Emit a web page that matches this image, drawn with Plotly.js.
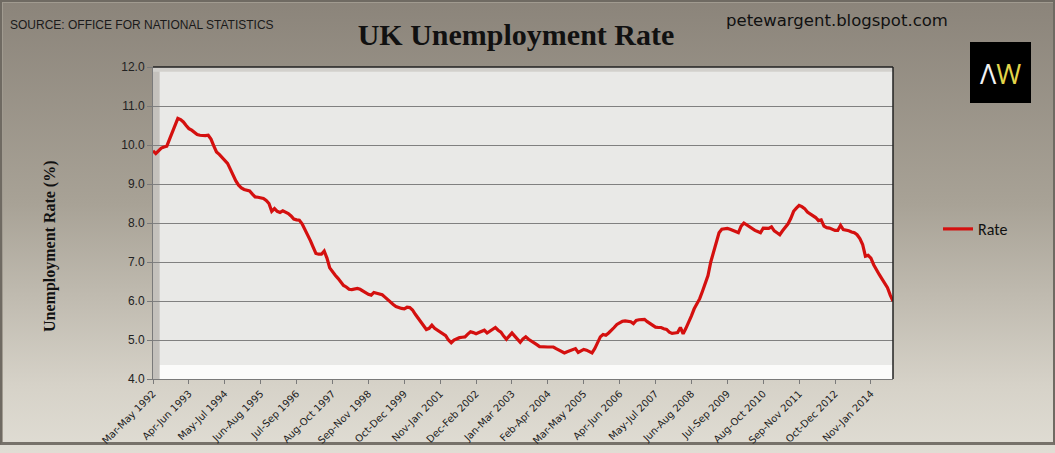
<!DOCTYPE html>
<html>
<head>
<meta charset="utf-8">
<script src="https://cdn.plot.ly/plotly-3.0.1.min.js"></script>
<style>
  html, body { margin: 0; padding: 0; }
  body {
    width: 1055px; height: 453px; overflow: hidden;
    background: linear-gradient(to bottom, #8b847a 0%, #a8a296 45%, #d6d2c8 85%, #e0ddd4 100%);
  }
  #frame {
    position: absolute; left: 0; top: 0; width: 1051px; height: 440px;
    border: 2px solid #6f6a62; border-bottom: 3px solid #77726a;
    box-shadow: inset 1px 1px 0 #a19b90;
  }
  #divPlot { position: absolute; left: 0; top: 0; width: 1055px; height: 453px; }
</style>
</head>
<body>
<div id="frame"></div>
<div id="divPlot"></div>
<script>
// rolling three-month periods, Mar-May 1992 onwards
const MONTHS = ['Jan', 'Feb', 'Mar', 'Apr', 'May', 'Jun', 'Jul', 'Aug', 'Sep', 'Oct', 'Nov', 'Dec'];

const rate = [
  9.85, 9.78, 9.85, 9.92, 9.95, 9.97, 10.15, 10.33, 10.5, 10.68,
  10.65, 10.59, 10.5, 10.42, 10.38, 10.32, 10.27, 10.25, 10.24, 10.24,
  10.25, 10.15, 9.98, 9.82, 9.76, 9.69, 9.62, 9.53, 9.38, 9.22,
  9.08, 8.97, 8.9, 8.86, 8.85, 8.82, 8.74, 8.67, 8.66, 8.65,
  8.63, 8.58, 8.5, 8.3, 8.37, 8.3, 8.27, 8.31, 8.28, 8.24,
  8.18, 8.1, 8.08, 8.07, 7.98, 7.85, 7.7, 7.55, 7.38, 7.22,
  7.2, 7.2, 7.28, 7.1, 6.85, 6.74, 6.66, 6.58, 6.48, 6.4,
  6.36, 6.3, 6.29, 6.3, 6.32, 6.3, 6.25, 6.21, 6.17, 6.15,
  6.22, 6.2, 6.18, 6.16, 6.1, 6.03, 5.96, 5.91, 5.86, 5.83,
  5.81, 5.8, 5.84, 5.83, 5.77, 5.66, 5.56, 5.44, 5.35, 5.27,
  5.3, 5.38, 5.3, 5.25, 5.2, 5.17, 5.11, 5.0, 4.93, 5.0,
  5.04, 5.06, 5.07, 5.08, 5.15, 5.21, 5.19, 5.16, 5.19, 5.22,
  5.25, 5.18, 5.22, 5.27, 5.32, 5.25, 5.2, 5.1, 5.02, 5.1,
  5.18, 5.1, 5.02, 4.94, 5.03, 5.08, 5.02, 4.98, 4.92, 4.88,
  4.83, 4.82, 4.82, 4.82, 4.82, 4.82, 4.78, 4.74, 4.7, 4.67,
  4.7, 4.72, 4.74, 4.78, 4.68, 4.72, 4.76, 4.74, 4.7, 4.67,
  4.78, 4.95, 5.08, 5.14, 5.12, 5.18, 5.24, 5.32, 5.4, 5.45,
  5.48, 5.49, 5.48, 5.47, 5.42, 5.5, 5.52, 5.53, 5.53, 5.47,
  5.42, 5.36, 5.33, 5.32, 5.32, 5.29, 5.27, 5.2, 5.17, 5.18,
  5.19, 5.32, 5.16, 5.3, 5.45, 5.62, 5.8, 5.94, 6.06, 6.25,
  6.43, 6.65, 7.0, 7.25, 7.47, 7.75, 7.84, 7.86, 7.86, 7.84,
  7.8, 7.78, 7.75, 7.92, 8.0, 7.95, 7.9, 7.85, 7.81, 7.78,
  7.75, 7.87, 7.86, 7.86, 7.9, 7.8, 7.75, 7.7, 7.8, 7.9,
  7.98, 8.12, 8.3, 8.38, 8.45, 8.42, 8.37, 8.28, 8.24, 8.18,
  8.14, 8.06, 8.08, 7.92, 7.88, 7.87, 7.84, 7.81, 7.81, 7.94,
  7.83, 7.82, 7.8, 7.77, 7.75, 7.7, 7.6, 7.45, 7.15, 7.17,
  7.1, 6.93, 6.79, 6.68, 6.57, 6.45, 6.34, 6.15, 6.0
];

const tickLabels = [
  'Mar-May 1992', 'Apr-Jun 1993', 'May-Jul 1994', 'Jun-Aug 1995', 'Jul-Sep 1996',
  'Aug-Oct 1997', 'Sep-Nov 1998', 'Oct-Dec 1999', 'Nov-Jan 2001', 'Dec-Feb 2002',
  'Jan-Mar 2003', 'Feb-Apr 2004', 'Mar-May 2005', 'Apr-Jun 2006', 'May-Jul 2007',
  'Jun-Aug 2008', 'Jul-Sep 2009', 'Aug-Oct 2010', 'Sep-Nov 2011', 'Oct-Dec 2012',
  'Nov-Jan 2014'
];

const periods = rate.map(function (v, i) {
  const first = MONTHS[(2 + i) % 12];
  const last = MONTHS[(4 + i) % 12];
  const year = 1992 + Math.floor((4 + i) / 12);
  return first + '-' + last + ' ' + year;
});

// paper coords are relative to the plot area, so convert from window pixels
const M = {l : 153, r : 162, t : 67, b : 74};
const W = 1055, H = 453;
function px(x) { return (x - M.l) / (W - M.l - M.r); }
function py(y) { return (H - M.b - y) / (H - M.t - M.b); }

const trace = {
  x : periods,
  y : rate,
  type : 'scatter',
  mode : 'lines',
  name : 'Rate',
  line : {color : '#d4100f', width : 3.2, shape : 'linear'}
};

const layout = {
  width : W,
  height : H,
  margin : M,
  paper_bgcolor : 'rgba(0,0,0,0)',
  plot_bgcolor : '#e9e9e7',
  showlegend : true,
  legend : {
    x : px(938), y : py(229), xanchor : 'left', yanchor : 'middle',
    bgcolor : 'rgba(0,0,0,0)',
    font : {family : 'Carlito, Open Sans, Liberation Sans, sans-serif', size : 16, color : '#111'},
    itemwidth : 30
  },
  title : {
    text : '<b>UK Unemployment Rate</b>',
    font : {family : 'Liberation Serif, Times New Roman, serif', size : 30, color : '#111'},
    x : 516 / W, xanchor : 'center', y : 1 - 34 / H, yanchor : 'middle'
  },
  xaxis : {
    type : 'category',
    tickmode : 'array',
    tickvals : tickLabels,
    ticktext : tickLabels,
    tickangle : -45,
    ticks : 'outside',
    ticklen : 4,
    tickcolor : '#7a7a7a',
    tickfont : {family : 'DejaVu Sans, sans-serif', size : 10, color : '#222'},
    showgrid : false,
    showline : true,
    linecolor : '#7a7a7a',
    linewidth : 1,
    mirror : false,
    range : [0, rate.length - 1],
    zeroline : false
  },
  yaxis : {
    range : [4, 12],
    dtick : 1,
    tick0 : 4,
    tickformat : '.1f',
    ticks : 'outside',
    ticklen : 5,
    tickcolor : '#7a7a7a',
    tickfont : {family : 'Liberation Sans, Arial, sans-serif', size : 12, color : '#222'},
    showgrid : true,
    gridcolor : '#808080',
    gridwidth : 1,
    showline : true,
    linecolor : '#7a7a7a',
    linewidth : 1,
    zeroline : false
  },
  shapes : [
    // bevel round the plot area
    {type : 'rect', xref : 'x domain', yref : 'y domain', x0 : 0, x1 : 1, y0 : 0, y1 : 0.045,
     fillcolor : '#fbfbfa', line : {width : 0}, layer : 'below'},
    {type : 'rect', xref : 'x domain', yref : 'y domain', x0 : 0, x1 : 0.009, y0 : 0, y1 : 1,
     fillcolor : '#c4c1bc', line : {width : 0}, layer : 'below'},
    {type : 'rect', xref : 'x domain', yref : 'y domain', x0 : 0, x1 : 1, y0 : 0.985, y1 : 1,
     fillcolor : '#d2d0cc', line : {width : 0}, layer : 'below'},
    {type : 'line', xref : 'x domain', yref : 'y domain', x0 : 0, x1 : 1, y0 : 1, y1 : 1,
     line : {color : '#222', width : 1.5}},
    {type : 'line', xref : 'x domain', yref : 'y domain', x0 : 1, x1 : 1, y0 : 0, y1 : 1,
     line : {color : '#222', width : 1.5}},
    // logo box
    {type : 'rect', xref : 'paper', yref : 'paper', x0 : px(970), x1 : px(1031),
     y0 : py(103), y1 : py(42), fillcolor : '#000', line : {width : 0}}
  ],
  annotations : [
    {text : '<b>Unemployment Rate (%)</b>', xref : 'paper', yref : 'paper',
     x : px(50), y : py(246), xanchor : 'center', yanchor : 'middle', textangle : -90,
     showarrow : false,
     font : {family : 'Liberation Serif, Times New Roman, serif', size : 16, color : '#111'}},
    {text : 'SOURCE: OFFICE FOR NATIONAL STATISTICS', xref : 'paper', yref : 'paper',
     x : px(8), y : py(25), xanchor : 'left', yanchor : 'middle', showarrow : false,
     font : {family : 'Liberation Sans Narrow, Liberation Sans, sans-serif', size : 12, color : '#1a1a1a'}},
    {text : 'petewargent.blogspot.com', xref : 'paper', yref : 'paper',
     x : px(724), y : py(20), xanchor : 'left', yanchor : 'middle', showarrow : false,
     font : {family : 'DejaVu Sans, sans-serif', size : 16.5, color : '#111'}},
    {text : '<span style="color:#f2f2f2">Λ</span><span style="color:#e3d54a">W</span>',
     xref : 'paper', yref : 'paper', x : px(1000.5), y : py(73),
     xanchor : 'center', yanchor : 'middle', showarrow : false,
     font : {family : 'Open Sans, Lato, sans-serif', size : 27, color : '#fff'}}
  ]
};

Plotly.newPlot('divPlot', [ trace ], layout, {staticPlot : true});
</script>
</body>
</html>
